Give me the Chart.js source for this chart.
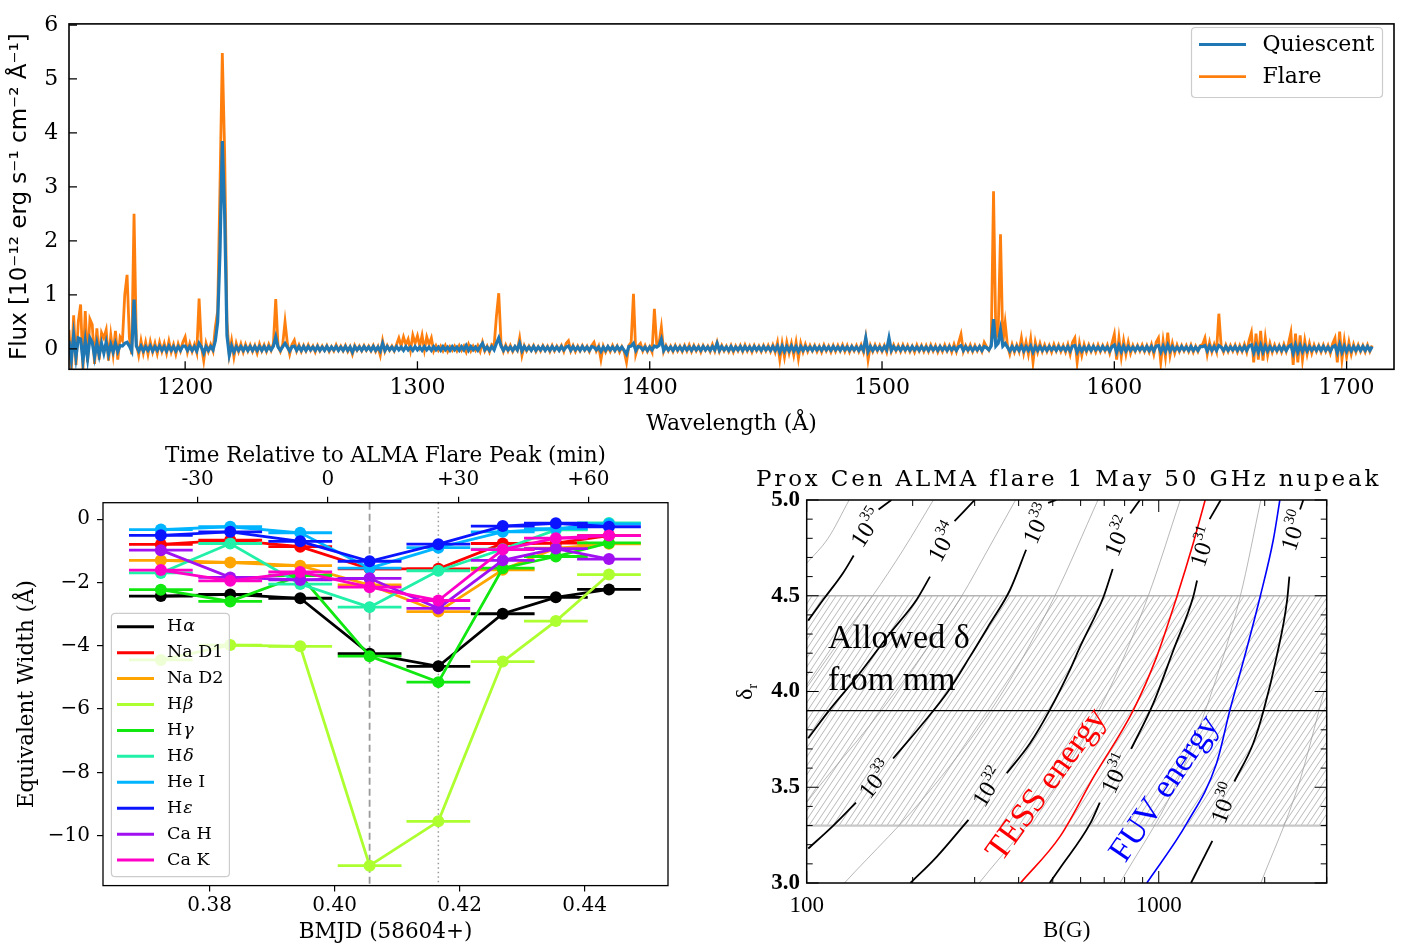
<!DOCTYPE html>
<html>
<head>
<meta charset="utf-8">
<script src="https://cdn.jsdelivr.net/npm/chart.js@4.4.1/dist/chart.umd.min.js"></script>
<style>
html,body{margin:0;padding:0;background:#fff;}
#wrap{position:relative;width:1403px;height:948px;overflow:hidden;background:#fff;}
canvas{position:absolute;}
#c1{left:0;top:0;}
#c2{left:0;top:440px;}
#c3{left:700px;top:440px;}
</style>
</head>
<body>
<div id="wrap">
<canvas id="c1" width="1403" height="440"></canvas>
<canvas id="c2" width="700" height="508"></canvas>
<canvas id="c3" width="703" height="508"></canvas>
</div>
<script>
// ===================== DATA =====================
// --- Top panel: FUV spectrum, 1 Å grid starting at 1150 Å ---
const wavelengthStart = 1150;
const wavelengthStep = 1;
const flareFlux = [
.35,-.38,.62,-.3,.5,.82,-.38,.7,-.25,.55,
.45,-.28,.38,-.2,.3,.2,.35,-.22,.25,-.1,
.33,-.2,.22,.15,1.0,1.37,.2,-.1,2.5,.1,
-.12,.15,-.08,.12,-.1,.13,-.06,.1,-.09,.12,
-.05,.1,-.08,.14,-.06,.08,-.1,.09,-.04,.12,
.22,-.06,.1,-.05,.08,-.07,.93,.05,-.22,.1,
-.05,.08,-.04,.4,.7,3.0,5.48,3.65,.5,-.1,
.15,-.15,.1,-.05,.09,-.06,.08,-.04,.07,-.05,
.06,-.08,.09,-.04,.07,-.05,.08,-.03,.1,.92,
.05,-.05,.08,.5,.1,-.1,.08,.16,-.04,.07,
-.05,.06,-.04,.07,-.03,.05,-.06,.06,-.04,.05,
-.03,.06,-.05,.04,-.04,.07,-.03,.05,-.04,.06,
-.05,.04,-.1,.06,-.03,.05,-.04,.06,-.03,.05,
-.04,.06,-.05,.04,-.12,.15,-.05,.06,-.03,.05,
-.04,.08,.2,.05,.22,.08,.18,-.03,.25,.1,
.24,.05,.25,-.02,.22,.08,.2,-.04,.06,-.03,
.05,-.04,.06,-.05,.04,-.03,.05,-.04,.06,-.03,
.05,-.06,.08,-.04,.05,-.03,.06,-.05,.12,-.04,
.05,-.06,.08,.05,.6,1.03,.1,-.05,.07,-.04,
.06,-.05,.04,-.03,.2,-.12,.06,-.04,.05,-.03,
.06,-.05,.04,-.04,.06,-.03,.05,-.05,.06,-.04,
.05,-.03,.06,-.05,.1,.15,-.04,.06,-.05,.05,
-.04,.06,-.03,.05,-.05,.06,.12,-.04,.05,-.2,
.05,-.06,.04,-.05,.06,-.04,.05,-.06,.04,-.05,
-.25,.06,.12,1.02,-.1,.05,.1,-.04,.06,-.05,
.04,-.06,.74,.08,.1,.4,-.05,.06,-.04,.05,
-.05,.06,-.04,.05,-.05,.06,-.04,.07,-.05,.06,
-.04,.05,-.06,.06,-.03,.05,-.05,.08,-.04,.12,
-.05,.06,-.04,.05,-.05,.06,-.06,.05,-.04,.06,
-.05,.07,-.04,.05,-.06,.06,-.04,.05,-.05,.06,
-.04,.06,-.05,.07,-.06,.12,-.2,.1,-.15,.12,
-.08,.1,-.12,.12,-.18,.1,-.06,.08,-.05,.06,
-.04,.06,-.05,.05,-.06,.07,-.04,.05,-.06,.06,
-.05,.06,-.04,.07,-.05,.06,-.06,.05,-.04,.06,
-.05,.07,-.06,.2,-.2,.06,-.05,.07,-.04,.06,
-.05,.06,-.06,.15,-.05,.07,-.04,.06,-.05,.07,
-.04,.06,-.05,.05,-.06,.07,-.04,.06,-.05,.06,
-.05,.07,-.04,.06,-.06,.05,-.05,.07,-.04,.06,
-.06,.08,-.05,.12,.27,-.05,.06,-.04,.07,-.05,
.06,-.04,.05,-.05,.12,.04,-.03,.08,2.92,.2,
.3,2.12,.1,.48,.06,-.1,.08,-.06,.07,-.05,
.2,-.08,.12,-.1,.18,-.25,.12,-.06,.1,-.05,
.07,-.05,.06,-.06,.08,-.04,.07,-.05,.06,-.06,
.08,-.1,.12,.2,-.25,.1,-.12,.08,-.06,.07,
-.05,.06,-.06,.07,-.05,.06,-.04,.07,-.08,.1,
.27,-.2,.2,-.15,.15,-.1,.12,-.08,.06,-.05,
.06,-.04,.07,-.05,.06,-.06,.08,-.1,.12,.2,
-.25,.15,-.15,.3,-.12,.1,-.08,.07,-.05,.06,
-.04,.06,-.05,.07,-.06,.05,-.05,.06,.08,.2,
-.1,.12,-.06,.08,-.05,.65,.05,-.06,.07,-.05,
.06,-.04,.07,-.06,.06,-.05,.08,-.06,.15,.3,
-.25,.28,-.2,.33,-.22,.2,-.12,.1,-.06,.07,
-.05,.06,-.06,.08,-.05,.1,.3,-.3,.28,-.25,
.25,-.2,.15,-.1,.1,-.08,.07,-.05,.06,-.06,
.07,-.05,.06,-.08,.1,.2,-.25,.32,-.2,.15,
-.15,.12,-.1,.08,-.06,.07,-.05,.06,-.06,.07,
-.05,.06
];
const quiescentFlux = [
.15,-.2,.25,-.15,.2,.18,-.22,.15,-.18,.2,
.12,-.15,.1,-.12,.1,-.08,.12,-.1,.08,-.06,
.1,-.05,.06,.05,.1,.12,.05,-.04,.91,.05,
-.04,.05,-.04,.04,-.03,.05,-.04,.04,-.03,.05,
-.03,.04,-.04,.05,-.03,.04,-.04,.04,-.03,.05,
.05,-.03,.04,-.03,.04,-.04,.1,.03,-.08,.04,
-.03,.04,-.02,.15,.5,1.8,3.85,2.5,.25,-.12,
.05,-.06,.04,-.03,.04,-.03,.04,-.03,.04,-.03,
.04,-.03,.04,-.03,.04,-.03,.04,-.02,.05,.22,
.03,-.03,.04,.1,.03,-.04,.04,.05,-.03,.04,
-.03,.04,-.03,.04,-.02,.03,-.03,.04,-.03,.03,
-.03,.04,-.03,.03,-.02,.04,-.03,.03,-.03,.04,
-.03,.03,-.06,.04,-.02,.03,-.03,.04,-.02,.03,
-.03,.04,-.03,.03,-.04,.1,-.03,.04,-.02,.03,
-.03,.04,-.02,.03,-.03,.04,-.02,.03,-.03,.04,
-.02,.03,-.03,.04,-.02,.03,-.03,.04,-.02,.03,
-.03,.04,-.02,.03,-.03,.04,-.02,.03,-.03,.04,
-.02,.06,-.03,.04,-.02,.03,-.03,.04,.1,-.02,
.03,-.03,.04,-.02,.1,.2,.05,-.03,.04,-.02,
.03,-.03,.04,-.02,.1,-.04,.04,-.02,.03,-.03,
.04,-.03,.03,-.02,.04,-.03,.03,-.03,.04,-.02,
.03,-.03,.04,-.02,.03,.05,-.03,.04,-.02,.03,
-.03,.04,-.02,.03,-.03,.04,.03,-.02,.03,-.05,
.03,-.03,.04,-.02,.03,-.03,.04,-.02,.03,-.03,
-.1,.04,.05,.1,-.03,.04,.03,-.02,.03,-.03,
.03,-.02,.05,.03,.06,.18,-.03,.04,-.02,.03,
-.03,.04,-.02,.03,-.03,.04,-.02,.03,-.03,.04,
-.02,.03,-.03,.04,-.02,.03,-.03,.04,-.02,.1,
-.03,.04,-.02,.03,-.03,.04,-.03,.03,-.02,.04,
-.03,.04,-.02,.03,-.03,.04,-.02,.03,-.03,.04,
-.02,.03,-.03,.04,-.03,.05,-.06,.05,-.05,.04,
-.04,.05,-.04,.04,-.05,.04,-.03,.04,-.02,.03,
-.03,.04,-.02,.03,-.03,.04,-.02,.03,-.03,.04,
-.02,.03,-.03,.04,-.02,.03,-.03,.04,-.02,.03,
-.03,.04,-.03,.2,-.05,.04,-.03,.04,-.02,.03,
-.03,.04,-.02,.2,-.03,.04,-.02,.03,-.03,.04,
-.02,.03,-.03,.04,-.02,.03,-.03,.04,-.02,.03,
-.03,.04,-.02,.03,-.03,.04,-.02,.03,-.03,.04,
-.02,.03,-.03,.04,.06,-.03,.04,-.02,.03,-.03,
.03,-.02,.04,-.03,.04,.02,-.02,.05,.55,.05,
.1,.35,.05,.1,.03,-.04,.04,-.03,.04,-.03,
.05,-.04,.04,-.03,.05,-.06,.04,-.03,.04,-.03,
.03,-.03,.04,-.02,.03,-.03,.04,-.02,.03,-.03,
.04,-.04,.05,.06,-.06,.04,-.04,.03,-.03,.04,
-.03,.04,-.02,.03,-.03,.04,-.02,.03,-.04,.04,
.07,-.06,.06,-.05,.05,-.04,.04,-.03,.03,-.03,
.04,-.02,.03,-.03,.04,-.03,.04,-.04,.05,.06,
-.06,.05,-.05,.07,-.04,.04,-.03,.03,-.03,.04,
-.02,.03,-.03,.04,-.03,.03,-.03,.04,.04,.06,
-.04,.05,-.03,.04,-.03,.06,.03,-.03,.04,-.03,
.03,-.02,.04,-.03,.03,-.03,.04,-.03,.05,.07,
-.07,.06,-.06,.07,-.06,.05,-.04,.04,-.03,.03,
-.03,.04,-.03,.04,-.03,.04,.07,-.08,.07,-.06,
.06,-.05,.05,-.04,.04,-.03,.03,-.03,.04,-.03,
.04,-.03,.03,-.04,.04,.06,-.07,.08,-.06,.05,
-.05,.04,-.04,.04,-.03,.04,-.03,.04,-.03,.04,
-.03,.04
];
const specXTicks = [1200,1300,1400,1500,1600,1700];
const specXTickLabels = ['1200','1300','1400','1500','1600','1700'];
const specYTicks = [0,1,2,3,4,5,6];
const specYTickLabels = ['0','1','2','3','4','5','6'];
const specSeriesNames = ['Quiescent','Flare'];

// --- Bottom-left panel: equivalent widths ---
const bmjd = [0.3722,0.3833,0.3945,0.4056,0.4166,0.4269,0.4354,0.4439];
const bmjdErr = [0.0051,0.0051,0.0051,0.0051,0.0051,0.0051,0.0051,0.0051];
const lineNames = ['Hα','Na D1','Na D2','Hβ','Hγ','Hδ','He I','Hε','Ca H','Ca K'];
const ewHalpha = [-2.43,-2.38,-2.50,-4.25,-4.65,-2.99,-2.47,-2.22];
const ewNaD1   = [-0.80,-0.66,-0.87,-1.57,-1.57,-0.77,-0.76,-0.52];
const ewNaD2   = [-1.30,-1.37,-1.47,-2.08,-2.92,-1.60,-0.92,-0.78];
const ewHbeta  = [-4.45,-3.98,-4.02,-10.95,-9.55,-4.50,-3.22,-1.75];
const ewHgamma = [-2.23,-2.60,-1.78,-4.33,-5.15,-1.55,-1.18,-0.75];
const ewHdelta = [-1.70,-0.77,-2.05,-2.78,-1.63,-0.95,-0.34,-0.12];
const ewHeI    = [-0.33,-0.24,-0.43,-1.55,-0.90,-0.40,-0.30,-0.15];
const ewHeps   = [-0.51,-0.40,-0.70,-1.33,-0.79,-0.22,-0.13,-0.24];
const ewCaH    = [-0.98,-1.84,-1.92,-1.87,-2.82,-1.30,-0.93,-1.26];
const ewCaK    = [-1.61,-1.95,-1.67,-2.15,-2.57,-0.96,-0.60,-0.52];
const almaPeakBMJD = 0.398928;     // 0 min of the top axis
const dashedLineBMJD = 0.4056;
const dottedLineBMJD = 0.4166;
const bmjdTicks = [0.38,0.40,0.42,0.44];
const bmjdTickLabels = ['0.38','0.40','0.42','0.44'];
const minuteTicks = [-30,0,30,60];
const minuteTickLabels = ['-30','0','+30','+60'];
const ewTicks = [0,-2,-4,-6,-8,-10];
const ewTickLabels = ['0','\u22122','\u22124','\u22126','\u22128','\u221210'];

// --- Bottom-right panel: energy contours (B [G], delta_r) ---
const bTicks = [100,1000];
const bTickLabels = ['100','1000'];
const bMinorTicks = [200,300,400,500,600,700,800,900,2000,3000];
const deltaTicks = [3.0,3.5,4.0,4.5,5.0];
const deltaTickLabels = ['3.0','3.5','4.0','4.5','5.0'];
const deltaMinorTicks = [3.1,3.2,3.3,3.4,3.6,3.7,3.8,3.9,4.1,4.2,4.3,4.4,4.6,4.7,4.8,4.9];
const allowedDelta = [3.3, 4.5];
const bestDelta = 3.9;
const contour1e35 = [[101,4.37],[111.5,4.48],[127,4.62],[136,4.71],null,[160,4.95],[174,5.0]];
const contour1e34 = [[101,3.756],[116,3.903],[139,4.077],[172.5,4.304],[205,4.478],[224,4.6],null,[263,4.89],[300,5.0]];
const contour1e33 = [[101,3.18],[119,3.30],[138,3.42],null,[176,3.65],[214,3.834],[252,4.0],[291,4.182],[332,4.356],[378,4.53],[420,4.74],null,[485,4.985],[512,5.0]];
const contour1e32 = [[197,3.0],[234,3.137],[288,3.33],null,[370,3.573],[431,3.73],[490,3.903],[559,4.112],[598,4.234],[697,4.495],[740,4.64],null,[830,4.93],[884,5.0]];
const contour1e31 = [[490,3.0],[524,3.077],[639,3.311],[680,3.42],null,[835,3.7],[965,3.938],[1101,4.217],[1253,4.495],[1285,4.58],null,[1395,4.9],[1500,5.0]];
const contour1e30 = [[1235,3.0],[1420,3.22],null,[1640,3.53],[1856,3.73],[1987,3.903],[2162,4.182],[2316,4.478],[2350,4.6],null,[2520,4.95],[2574,5.0]];
const thinContours = [
  [[100,4.67],[115,4.8],[132,5.0]],
  [[100,4.02],[128,4.3],[154,4.5],[188,4.74],[229,5.0]],
  [[100,3.42],[108,3.5],[152,3.83],[211,4.18],[276,4.5],[327,4.74],[392,5.0]],
  [[128,3.0],[228,3.5],[361,4.0],[507,4.5],[672,5.0]],
  [[309,3.0],[507,3.5],[719,4.0],[934,4.5],[1151,5.0]],
  [[776,3.0],[1109,3.5],[1416,4.0],[1706,4.5],[1950,5.0]],
  [[1950,3.0],[2483,3.5],[2950,4.0]]
];
const tessEnergy = [[405,3.0],[524,3.242],[654,3.555],[847,3.903],[987,4.182],[1126,4.495],[1253,4.774],[1355,5.0]];
const fuvEnergy  = [[925,3.0],[1201,3.311],[1459,3.624],[1593,3.903],[1774,4.217],[1941,4.495],[2115,4.791],[2208,5.0]];
const contourLabels = [
  {B:148, d:4.855, exp:'35', angle:-57},
  {B:244, d:4.78,  exp:'34', angle:-62},
  {B:452, d:4.875, exp:'33', angle:-66},
  {B:768, d:4.81,  exp:'32', angle:-67},
  {B:1334,d:4.756, exp:'31', angle:-72},
  {B:2420,d:4.84,  exp:'30', angle:-72},
  {B:157, d:3.54,  exp:'33', angle:-52},
  {B:328, d:3.50,  exp:'32', angle:-58},
  {B:755, d:3.57,  exp:'31', angle:-65},
  {B:1535,d:3.416, exp:'30', angle:-70}
];
const energyTexts = [
  {text:'TESS energy', B:482, d:3.512, angle:-54, color:'#ff0000'},
  {text:'FUV energy',  B:1042, d:3.491, angle:-56, color:'#0000ff'}
];
const allowedText = ['Allowed \u03b4','from mm'];
const allowedTextB = 115;
const allowedTextDelta = [4.227, 4.008];
const rightTitle = 'Prox Cen ALMA flare 1 May 50 GHz nupeak';

// ===================== HELPERS =====================
Chart.defaults.font.family = 'DejaVu Serif';
Chart.defaults.color = '#000';
const SERIF = '"DejaVu Serif"';
const TIMES = '"Liberation Serif"';

function roundRect(ctx, x, y, w, h, r) {
  ctx.beginPath();
  ctx.moveTo(x + r, y);
  ctx.lineTo(x + w - r, y); ctx.quadraticCurveTo(x + w, y, x + w, y + r);
  ctx.lineTo(x + w, y + h - r); ctx.quadraticCurveTo(x + w, y + h, x + w - r, y + h);
  ctx.lineTo(x + r, y + h); ctx.quadraticCurveTo(x, y + h, x, y + h - r);
  ctx.lineTo(x, y + r); ctx.quadraticCurveTo(x, y, x + r, y);
  ctx.closePath();
}
const baseOpts = {
  responsive: false, animation: false, devicePixelRatio: 1, events: [],
  plugins: { legend: { display: false }, tooltip: { enabled: false } }
};

// ===================== TOP: SPECTRUM =====================
const wavelengths = flareFlux.map((_, i) => wavelengthStart + i * wavelengthStep);
const specDeco = {
  id: 'specDeco',
  afterDraw(chart) {
    const { ctx, chartArea: a, scales: { x, y } } = chart;
    ctx.save();
    ctx.strokeStyle = '#000';
    ctx.lineWidth = 1.6;
    ctx.strokeRect(a.left, a.top, a.right - a.left, a.bottom - a.top);
    ctx.lineWidth = 1.3;
    ctx.beginPath();
    specXTicks.forEach(v => { const p = x.getPixelForValue(v); ctx.moveTo(p, a.bottom); ctx.lineTo(p, a.bottom - 8); });
    specYTicks.forEach(v => { const p = y.getPixelForValue(v); ctx.moveTo(a.left, p); ctx.lineTo(a.left + 8, p); });
    ctx.stroke();
    // legend
    roundRect(ctx, 1191.5, 27.5, 191, 70, 4);
    ctx.fillStyle = 'rgba(255,255,255,0.85)';
    ctx.fill();
    ctx.strokeStyle = '#cccccc'; ctx.lineWidth = 1.2; ctx.stroke();
    const cols = chart.data.datasets.map(d => d.borderColor);
    const ys = [44.5, 76.7];
    ctx.font = '22px ' + SERIF; ctx.textBaseline = 'middle'; ctx.fillStyle = '#000';
    specSeriesNames.forEach((n, i) => {
      ctx.strokeStyle = cols[i]; ctx.lineWidth = 2.8;
      ctx.beginPath(); ctx.moveTo(1199, ys[i]); ctx.lineTo(1246, ys[i]); ctx.stroke();
      ctx.fillText(n, 1262.5, ys[i] + 1);
    });
    ctx.restore();
  }
};
new Chart(document.getElementById('c1'), {
  type: 'line',
  data: { datasets: [
    { label: specSeriesNames[0], data: quiescentFlux.map((f, i) => ({ x: wavelengths[i], y: f })),
      borderColor: '#1f77b4', borderWidth: 3.2, pointRadius: 0, order: 0 },
    { label: specSeriesNames[1], data: flareFlux.map((f, i) => ({ x: wavelengths[i], y: f })),
      borderColor: '#ff7f0e', borderWidth: 2.8, pointRadius: 0, order: 1 }
  ]},
  options: Object.assign({}, baseOpts, {
    layout: { padding: { top: 16, right: 9, left: 0, bottom: 0 } },
    scales: {
      x: { type: 'linear', min: 1150, max: 1720.4,
        afterFit(s) { s.height = 70.7; },
        afterBuildTicks(s) { s.ticks = specXTicks.map(v => ({ value: v })); },
        grid: { display: false, drawTicks: false }, border: { display: false },
        ticks: { callback: (v, i) => specXTickLabels[i], padding: 5.5, font: { size: 22 }, maxRotation: 0, autoSkip: false },
        title: { display: true, text: 'Wavelength (Å)', font: { size: 22 }, padding: { top: 0, bottom: 2.8 } } },
      y: { min: -0.38, max: 6.02,
        afterFit(s) { s.width = 69; },
        afterBuildTicks(s) { s.ticks = specYTicks.map(v => ({ value: v })); },
        grid: { display: false, drawTicks: false }, border: { display: false },
        ticks: { callback: (v, i) => specYTickLabels[i], padding: 10.7, font: { size: 22 }, autoSkip: false },
        title: { display: true, text: 'Flux [10\u207b\u00b9\u00b2 erg s\u207b\u00b9 cm\u207b\u00b2 \u00c5\u207b\u00b9]',
          font: { family: 'DejaVu Sans', size: 23 }, padding: { top: 6.5, bottom: 0 } } }
    }
  }),
  plugins: [specDeco]
});

// ===================== BOTTOM LEFT: EQUIVALENT WIDTHS =====================
const ewSeries = [ewHalpha, ewNaD1, ewNaD2, ewHbeta, ewHgamma, ewHdelta, ewHeI, ewHeps, ewCaH, ewCaK];
const ewColors = ['#000000','#ff0000','#ffa500','#adff2f','#10e810','#20f0a8','#00b4ff','#0a14ff','#a010f0','#ff00c8'];
const ewXMin = 0.362944, ewXMax = 0.453344;
const ewDatasets = [];
const nEw = ewSeries.length;
ewSeries.forEach((vals, k) => {
  const bars = [];
  bmjd.forEach((t, j) => {
    bars.push({ x: t - bmjdErr[j], y: vals[j] }, { x: t + bmjdErr[j], y: vals[j] }, { x: t + bmjdErr[j], y: null });
  });
  ewDatasets.push({ data: bars, borderColor: ewColors[k], borderWidth: 2.8, pointRadius: 0, spanGaps: false, order: 2 * (nEw - k) + 1 });
  ewDatasets.push({ label: lineNames[k], data: bmjd.map((t, j) => ({ x: t, y: vals[j] })),
    borderColor: ewColors[k], backgroundColor: ewColors[k], borderWidth: 2.8,
    pointRadius: 6, pointBorderWidth: 0, pointBackgroundColor: ewColors[k], order: 2 * (nEw - k) });
});
const ewDeco = {
  id: 'ewDeco',
  beforeDatasetsDraw(chart) {
    const { ctx, chartArea: a, scales: { x } } = chart;
    ctx.save();
    ctx.strokeStyle = '#9a9a9a';
    ctx.lineWidth = 1.8; ctx.setLineDash([7, 4]);
    let p = x.getPixelForValue(dashedLineBMJD);
    ctx.beginPath(); ctx.moveTo(p, a.top); ctx.lineTo(p, a.bottom); ctx.stroke();
    ctx.lineWidth = 1.5; ctx.setLineDash([1.5, 3]);
    p = x.getPixelForValue(dottedLineBMJD);
    ctx.beginPath(); ctx.moveTo(p, a.top); ctx.lineTo(p, a.bottom); ctx.stroke();
    ctx.restore();
  },
  afterDraw(chart) {
    const { ctx, chartArea: a } = chart;
    ctx.save();
    ctx.strokeStyle = '#000'; ctx.lineWidth = 1.3;
    ctx.strokeRect(a.left, a.top, a.right - a.left, a.bottom - a.top);
    roundRect(ctx, 111.4, 173.3, 118, 263.4, 4);
    ctx.fillStyle = 'rgba(255,255,255,0.8)'; ctx.fill();
    ctx.strokeStyle = '#cccccc'; ctx.lineWidth = 1.2; ctx.stroke();
    ctx.textBaseline = 'middle'; ctx.fillStyle = '#000';
    lineNames.forEach((n, i) => {
      const yy = 186.7 + i * 25.93;
      ctx.strokeStyle = ewColors[i]; ctx.lineWidth = 3;
      ctx.beginPath(); ctx.moveTo(117, yy); ctx.lineTo(154, yy); ctx.stroke();
      const m = n.match(/^H([\u03b1-\u03c9])$/);
      if (m) {
        ctx.font = '17.5px ' + SERIF; ctx.fillText('H', 167, yy);
        const w = ctx.measureText('H').width;
        ctx.font = 'italic 17.5px ' + SERIF; ctx.fillText(m[1], 167 + w + 1, yy);
      } else {
        ctx.font = '17.5px ' + SERIF; ctx.fillText(n, 167, yy);
      }
    });
    ctx.restore();
  }
};
const tickGrid = { display: true, drawOnChartArea: false, drawTicks: true, tickLength: 6, color: '#000', lineWidth: 1.2 };
new Chart(document.getElementById('c2'), {
  type: 'line',
  data: { datasets: ewDatasets },
  options: Object.assign({}, baseOpts, {
    layout: { padding: { top: 0, right: 32, left: 0, bottom: 0 } },
    scales: {
      x: { type: 'linear', position: 'bottom', min: ewXMin, max: ewXMax,
        afterFit(s) { s.height = 62.4; },
        afterBuildTicks(s) { s.ticks = bmjdTicks.map(v => ({ value: v })); },
        grid: tickGrid, border: { display: false },
        ticks: { callback: (v, i) => bmjdTickLabels[i], padding: 2.4, font: { size: 20 }, maxRotation: 0, autoSkip: false },
        title: { display: true, text: 'BMJD (58604+)', font: { size: 21.5 }, padding: { top: 0, bottom: 3 } } },
      x2: { type: 'linear', position: 'top',
        min: (ewXMin - almaPeakBMJD) * 1440, max: (ewXMax - almaPeakBMJD) * 1440,
        afterFit(s) { s.height = 62.7; },
        afterBuildTicks(s) { s.ticks = minuteTicks.map(v => ({ value: v })); },
        grid: tickGrid, border: { display: false },
        ticks: { callback: (v, i) => minuteTickLabels[i], padding: 4.7, font: { size: 20 }, maxRotation: 0, autoSkip: false },
        title: { display: true, text: 'Time Relative to ALMA Flare Peak (min)', font: { size: 21.5 }, padding: { top: 4, bottom: 0 } } },
      y: { min: -11.58, max: 0.52,
        afterFit(s) { s.width = 103; },
        afterBuildTicks(s) { s.ticks = ewTicks.map(v => ({ value: v })); },
        grid: tickGrid, border: { display: false },
        ticks: { callback: (v, i) => ewTickLabels[i], padding: 7, font: { size: 20 }, autoSkip: false },
        title: { display: true, text: 'Equivalent Width (Å)', font: { size: 21.5 }, padding: { top: 15, bottom: 0 } } }
    }
  }),
  plugins: [ewDeco]
});

// ===================== BOTTOM RIGHT: CONTOURS =====================
const c3 = document.getElementById('c3');
function makeHatch() {
  const t = document.createElement('canvas');
  t.width = 6; t.height = 9;
  const g = t.getContext('2d');
  g.strokeStyle = '#9a9a9a'; g.lineWidth = 0.7;
  g.beginPath();
  g.moveTo(-6, 9); g.lineTo(0, 0);
  g.moveTo(0, 9); g.lineTo(6, 0);
  g.moveTo(6, 9); g.lineTo(12, 0);
  g.stroke();
  return c3.getContext('2d').createPattern(t, 'repeat');
}
function toSegments(curve) {
  const segs = []; let cur = [];
  curve.forEach(p => { if (p === null) { if (cur.length) segs.push(cur); cur = []; } else cur.push({ x: p[0], y: p[1] }); });
  if (cur.length) segs.push(cur);
  return segs;
}
const lineBase = { pointRadius: 0, fill: false, cubicInterpolationMode: 'monotone' };
const rDatasets = [];
rDatasets.push(Object.assign({}, lineBase, { data: [{ x: 100, y: allowedDelta[1] }, { x: 3000, y: allowedDelta[1] }],
  borderColor: '#b4b4b4', borderWidth: 1.6, fill: { value: allowedDelta[0] }, backgroundColor: makeHatch(), order: 60 }));
rDatasets.push(Object.assign({}, lineBase, { data: [{ x: 100, y: allowedDelta[0] }, { x: 3000, y: allowedDelta[0] }],
  borderColor: '#c8c8c8', borderWidth: 2.2, order: 59 }));
thinContours.forEach(c => toSegments(c).forEach(s =>
  rDatasets.push(Object.assign({}, lineBase, { data: s, borderColor: '#9a9a9a', borderWidth: 0.7, order: 40 }))));
rDatasets.push(Object.assign({}, lineBase, { data: [{ x: 100, y: bestDelta }, { x: 3000, y: bestDelta }],
  borderColor: '#000', borderWidth: 1.3, order: 30 }));
[contour1e35, contour1e34, contour1e33, contour1e32, contour1e31, contour1e30].forEach(c => toSegments(c).forEach(s =>
  rDatasets.push(Object.assign({}, lineBase, { data: s, borderColor: '#000', borderWidth: 1.8, order: 20 }))));
rDatasets.push(Object.assign({}, lineBase, { data: toSegments(tessEnergy)[0], borderColor: '#ff0000', borderWidth: 1.6, order: 10 }));
rDatasets.push(Object.assign({}, lineBase, { data: toSegments(fuvEnergy)[0], borderColor: '#0000ff', borderWidth: 1.6, order: 10 }));

const rightDeco = {
  id: 'rightDeco',
  afterDatasetsDraw(chart) {
    const { ctx, scales: { x, y } } = chart;
    ctx.save();
    ctx.fillStyle = '#000';
    ctx.textBaseline = 'alphabetic';
    contourLabels.forEach(l => {
      const px = x.getPixelForValue(l.B), py = y.getPixelForValue(l.d);
      ctx.save();
      ctx.translate(px, py); ctx.rotate(l.angle * Math.PI / 180);
      ctx.font = '24px ' + TIMES; const w1 = ctx.measureText('10').width;
      ctx.font = '15px ' + TIMES; const w2 = ctx.measureText(l.exp).width;
      const tot = w1 + w2 + 1;
      ctx.font = '24px ' + TIMES; ctx.fillText('10', -tot / 2, 8);
      ctx.font = '15px ' + TIMES; ctx.fillText(l.exp, -tot / 2 + w1 + 1, -3);
      ctx.restore();
    });
    energyTexts.forEach(t => {
      const px = x.getPixelForValue(t.B), py = y.getPixelForValue(t.d);
      ctx.save();
      ctx.translate(px, py); ctx.rotate(t.angle * Math.PI / 180);
      ctx.font = '34px ' + TIMES; ctx.fillStyle = t.color; ctx.textAlign = 'center'; ctx.textBaseline = 'middle';
      ctx.fillText(t.text, 0, 0);
      ctx.restore();
    });
    ctx.font = '34px ' + TIMES; ctx.fillStyle = '#000'; ctx.textAlign = 'left';
    allowedText.forEach((s, i) => ctx.fillText(s, x.getPixelForValue(allowedTextB), y.getPixelForValue(allowedTextDelta[i])));
    ctx.restore();
  },
  afterDraw(chart) {
    const { ctx, chartArea: a, scales: { x, y } } = chart;
    ctx.save();
    ctx.strokeStyle = '#000'; ctx.lineWidth = 1.5;
    ctx.strokeRect(a.left, a.top, a.right - a.left, a.bottom - a.top);
    ctx.lineWidth = 1;
    ctx.beginPath();
    const tick = (px, len) => { ctx.moveTo(px, a.bottom); ctx.lineTo(px, a.bottom - len); ctx.moveTo(px, a.top); ctx.lineTo(px, a.top + len); };
    bTicks.forEach(v => tick(x.getPixelForValue(v), 12));
    bMinorTicks.forEach(v => tick(x.getPixelForValue(v), 6));
    const ytick = (py, len) => { ctx.moveTo(a.left, py); ctx.lineTo(a.left + len, py); ctx.moveTo(a.right, py); ctx.lineTo(a.right - len, py); };
    deltaTicks.forEach(v => ytick(y.getPixelForValue(v), 12));
    deltaMinorTicks.forEach(v => ytick(y.getPixelForValue(v), 6));
    ctx.stroke();
    // title
    ctx.font = '23px ' + SERIF; ctx.fillStyle = '#000'; ctx.textBaseline = 'middle'; ctx.textAlign = 'left';
    const w0 = ctx.measureText(rightTitle).width;
    const ls = Math.max(0, (622 - w0) / (rightTitle.length - 1));
    try { ctx.letterSpacing = ls + 'px'; } catch (e) {}
    ctx.fillText(rightTitle, 56, 40);
    try { ctx.letterSpacing = '0px'; } catch (e) {}
    // y label delta_r
    ctx.save();
    ctx.translate(44, 252); ctx.rotate(-Math.PI / 2);
    ctx.font = '24px ' + TIMES; ctx.textBaseline = 'alphabetic';
    ctx.fillText('\u03b4', -8, 8);
    const wd = ctx.measureText('\u03b4').width;
    ctx.font = '15px ' + TIMES; ctx.fillText('r', -8 + wd, 13);
    ctx.restore();
    ctx.restore();
  }
};
new Chart(c3, {
  type: 'line',
  data: { datasets: rDatasets },
  options: Object.assign({}, baseOpts, {
    layout: { padding: { top: 60, right: 76.3, left: 0, bottom: 0 } },
    scales: {
      x: { type: 'logarithmic', min: 100, max: 3000,
        afterFit(s) { s.height = 65; },
        afterBuildTicks(s) { s.ticks = bTicks.map(v => ({ value: v })); },
        grid: { display: false, drawTicks: false }, border: { display: false },
        ticks: { callback: (v, i) => bTickLabels[i], padding: 9, font: { family: 'Liberation Serif', size: 23 }, maxRotation: 0, autoSkip: false },
        title: { display: true, text: 'B(G)', font: { family: 'Liberation Serif', size: 23 }, padding: { top: 0, bottom: 3 } } },
      y: { type: 'linear', min: 3, max: 5,
        afterFit(s) { s.width = 106.7; },
        afterBuildTicks(s) { s.ticks = deltaTicks.map(v => ({ value: v })); },
        grid: { display: false, drawTicks: false }, border: { display: false },
        ticks: { callback: (v, i) => deltaTickLabels[i], padding: 6.7, font: { family: 'Liberation Serif', size: 23, weight: 'bold' }, autoSkip: false } }
    }
  }),
  plugins: [rightDeco]
});
</script>
</body>
</html>
